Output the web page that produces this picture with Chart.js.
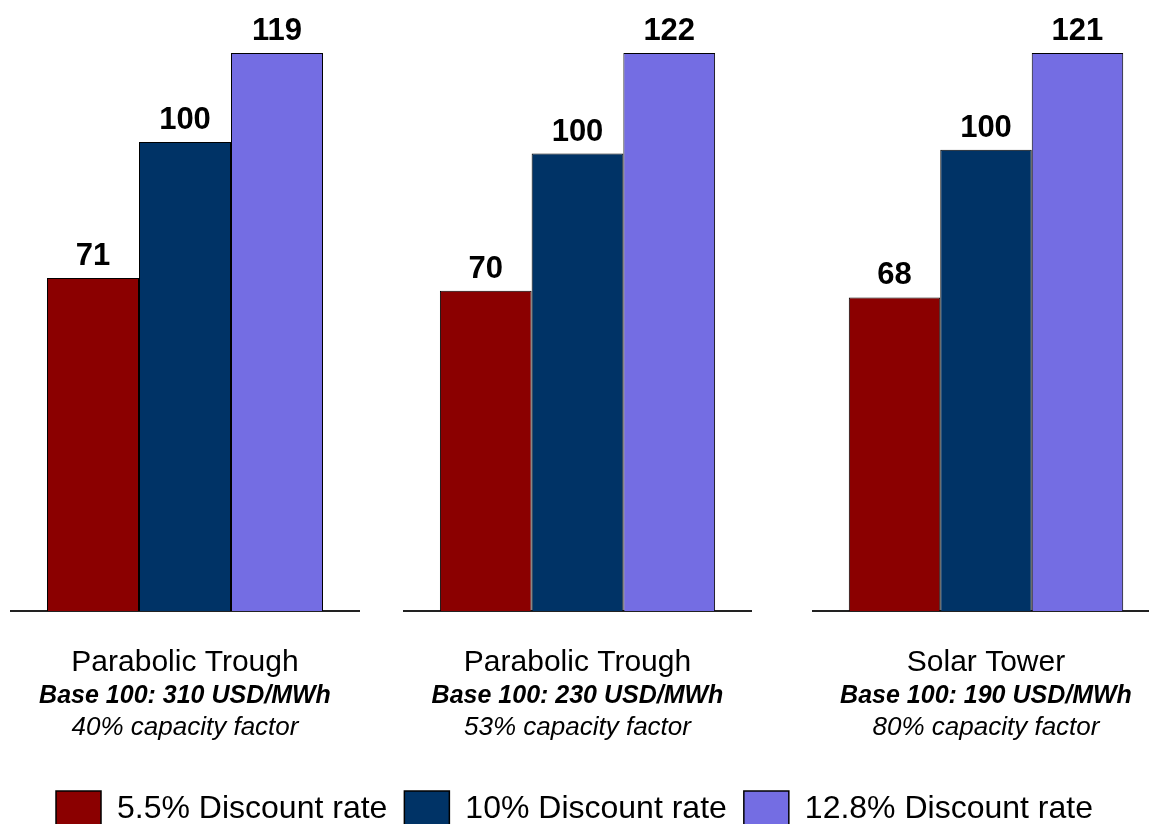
<!DOCTYPE html>
<html>
<head>
<meta charset="utf-8">
<script src="https://cdn.jsdelivr.net/npm/chart.js@4.4.1/dist/chart.umd.min.js"></script>
<style>
  html, body { margin: 0; padding: 0; background: #fff; overflow: hidden; width: 1149px; height: 824px; }
  .box { position: absolute; }
  canvas { display: block; }
</style>
</head>
<body>
<div class="box" style="left:10px; top:0; width:350px; height:760px;"><canvas id="c0" width="350" height="760"></canvas></div>
<div class="box" style="left:403px; top:0; width:349px; height:760px;"><canvas id="c1" width="349" height="760"></canvas></div>
<div class="box" style="left:812px; top:0; width:348px; height:760px;"><canvas id="c2" width="348" height="760"></canvas></div>
<div class="box" style="left:0; top:774px; width:1149px; height:200px;"><canvas id="legend" width="1149" height="200"></canvas></div>
<script>
// ---- data ----
const categories = ['Parabolic Trough', 'Parabolic Trough', 'Solar Tower'];
const baseCosts = ['Base 100: 310 USD/MWh', 'Base 100: 230 USD/MWh', 'Base 100: 190 USD/MWh'];
const capacityFactors = ['40% capacity factor', '53% capacity factor', '80% capacity factor'];
const seriesNames = ['5.5% Discount rate', '10% Discount rate', '12.8% Discount rate'];
const rate55 = [71, 70, 68];
const rate10 = [100, 100, 100];
const rate128 = [119, 122, 121];

const seriesValues = [rate55, rate10, rate128];
const seriesColors = ['#8B0000', '#003366', '#746DE3'];
const FONT = '"Liberation Sans", Arial, Helvetica, sans-serif';

Chart.defaults.font.family = FONT;
Chart.defaults.color = '#000';

const valueLabels = {
  id: 'valueLabels',
  afterDatasetsDraw(chart) {
    const ctx = chart.ctx;
    ctx.save();
    ctx.font = 'bold 31px ' + FONT;
    ctx.fillStyle = '#000';
    ctx.textAlign = 'center';
    ctx.textBaseline = 'alphabetic';
    chart.data.datasets.forEach((ds, di) => {
      const meta = chart.getDatasetMeta(di);
      meta.data.forEach((el, i) => {
        ctx.fillText(String(ds.data[i]), el.x, el.y - 13);
      });
    });
    ctx.restore();
  }
};

const captions = {
  id: 'captions',
  afterDraw(chart, args, opts) {
    const ctx = chart.ctx;
    const a = chart.chartArea;
    const cx = (a.left + a.right) / 2;
    ctx.save();
    ctx.fillStyle = '#000';
    ctx.textAlign = 'center';
    ctx.textBaseline = 'alphabetic';
    ctx.font = '30px ' + FONT;
    ctx.fillText(opts.lines[0], cx, a.bottom + 60);
    ctx.font = 'italic bold 25px ' + FONT;
    ctx.fillText(opts.lines[1], cx, a.bottom + 92);
    ctx.font = 'italic 26px ' + FONT;
    ctx.fillText(opts.lines[2], cx, a.bottom + 124);
    ctx.restore();
  }
};

for (let i = 0; i < categories.length; i++) {
  const groupMax = Math.max(rate55[i], rate10[i], rate128[i]);
  new Chart(document.getElementById('c' + i), {
    type: 'bar',
    data: {
      labels: [categories[i]],
      datasets: seriesNames.map((name, k) => ({
        label: name,
        data: [seriesValues[k][i]],
        backgroundColor: seriesColors[k],
        borderColor: '#000',
        borderWidth: 1,
        categoryPercentage: 0.7886,
        barPercentage: 1
      }))
    },
    options: {
      responsive: false,
      animation: false,
      layout: { padding: { top: 53, bottom: 149, left: 0, right: 0 } },
      plugins: {
        legend: { display: false },
        tooltip: { enabled: false },
        captions: { lines: [categories[i], baseCosts[i], capacityFactors[i]] }
      },
      scales: {
        x: {
          display: true,
          ticks: { display: false },
          grid: { display: false, drawTicks: false },
          border: { display: true, color: '#222', width: 2 }
        },
        y: {
          display: false,
          min: 0,
          max: groupMax
        }
      }
    },
    plugins: [valueLabels, captions]
  });
}

new Chart(document.getElementById('legend'), {
  type: 'bar',
  data: {
    labels: [],
    datasets: seriesNames.map((name, k) => ({
      label: name,
      data: [],
      backgroundColor: seriesColors[k],
      borderColor: '#000',
      borderWidth: 1.5
    }))
  },
  options: {
    responsive: false,
    animation: false,
    layout: { padding: 0 },
    plugins: {
      tooltip: { enabled: false },
      legend: {
        display: true,
        position: 'top',
        onClick: null,
        labels: {
          color: '#000',
          font: { size: 32, family: FONT },
          boxWidth: 45,
          boxHeight: 36,
          padding: 17
        }
      }
    },
    scales: { x: { display: false }, y: { display: false } }
  }
});
</script>
</body>
</html>
